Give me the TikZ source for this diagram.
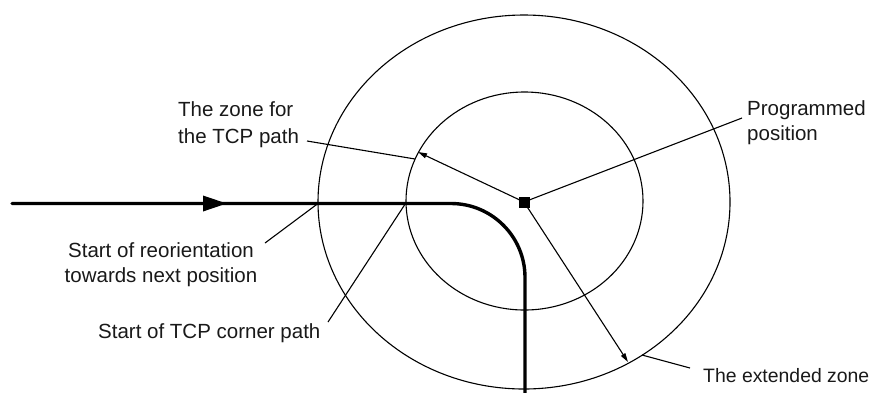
\documentclass[tikz,border=0pt]{standalone}
\usepackage{fontspec}
\setmainfont{Liberation Sans}
\usetikzlibrary{arrows.meta,decorations.markings}
\begin{document}
\begin{tikzpicture}[x=1pt,y=-1pt,
  thinline/.style={line width=1.1pt},
  radarrow/.style={thinline,-{Triangle[length=9pt,width=5pt]}},
  lbl/.style={font=\fontsize{20.5}{24.5}\selectfont, inner sep=0pt, text=black!90},
  thickpath/.style={line width=3.4pt, line cap=round, rounded corners=74pt}]
\useasboundingbox (0,0) rectangle (874,392);
% centre and zones
\coordinate (c) at (524,202);
\draw[thinline] (c) ellipse [x radius=206pt, y radius=187pt];
\draw[thinline] (524.5,201) ellipse [x radius=118.5pt, y radius=109pt];
% TCP path
\coordinate (ps) at (12,203.5);
\coordinate (pc) at (525,203.5);
\coordinate (pe) at (525,400);
\draw[thickpath, postaction=decorate,
  decoration={markings, mark=at position 215pt with {\arrow{Triangle[length=24pt,width=15pt]}}}]
  (ps) -- (pc) -- (pe);
% programmed position
\node[fill=black, minimum size=11pt, inner sep=0pt] (pp) at (c) {};
% radius arrows
\coordinate (zi) at (418,152);
\coordinate (zo) at (628,362);
\draw[radarrow] (pp.center) -- (zi);
\draw[radarrow] (pp.center) -- (zo);
% labels (base anchor = baseline of the last line)
\node[lbl, anchor=base west, align=left] (tzone) at (178,143) {The zone for\\[2pt]the TCP path};
\node[lbl, anchor=base, align=center] (treo) at (161,282) {Start of reorientation\\towards next position};
\node[lbl, anchor=base west] (tcorner) at (98,338) {Start of TCP corner path};
\node[lbl, anchor=base west, align=left] (tprog) at (747,140) {Programmed\\position};
\node[lbl, anchor=base west, font=\fontsize{19.4}{24}\selectfont] (text) at (703,382) {The extended zone};
% leader lines
\coordinate (lz1) at (307,141);
\coordinate (lz2) at (415,159);
\draw[thinline] (lz1) -- (lz2);
\coordinate (lp) at (742,118);
\draw[thinline] (pp.center) -- (lp);
\coordinate (le1) at (642,355);
\coordinate (le2) at (690,368);
\draw[thinline] (le1) -- (le2);
\coordinate (lr1) at (318,203.5);
\coordinate (lr2) at (265,243);
\draw[thinline] (lr1) -- (lr2);
\coordinate (lc1) at (405.5,203.5);
\coordinate (lc2) at (328,322);
\draw[thinline] (lc1) -- (lc2);
\end{tikzpicture}
\end{document}
